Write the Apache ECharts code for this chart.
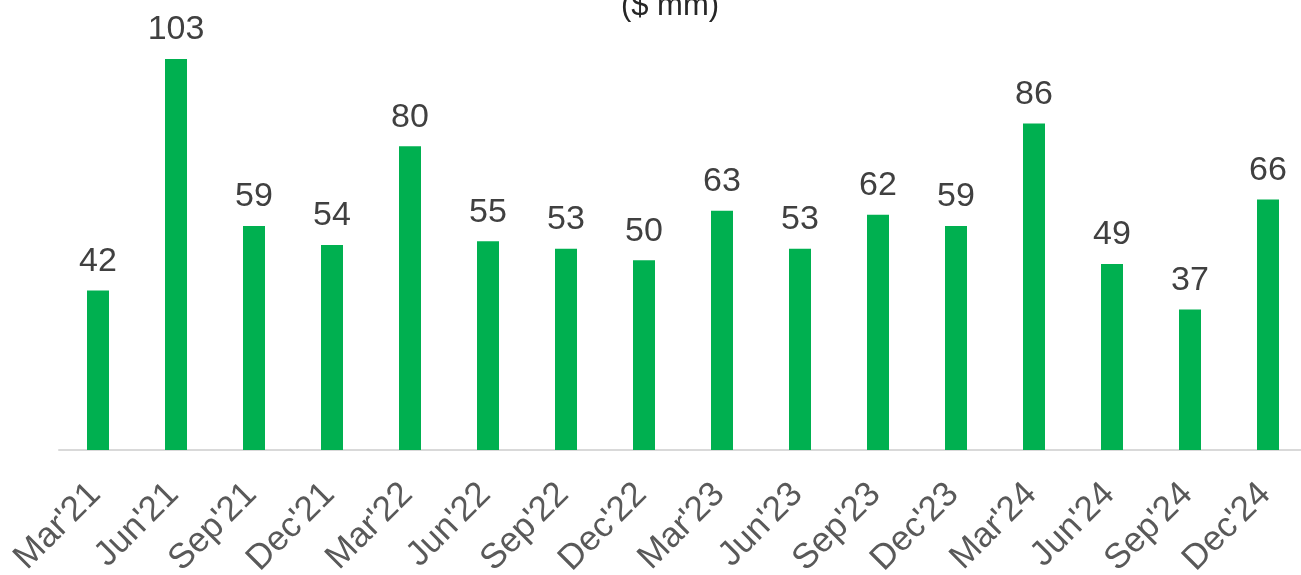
<!DOCTYPE html>
<html>
<head>
<meta charset="utf-8">
<script src="https://cdn.jsdelivr.net/npm/echarts@6/dist/echarts.min.js"></script>
<style>
html,body{margin:0;padding:0;background:#fff;}
#chart{width:1301px;height:575px;}
</style>
</head>
<body>
<div id="chart"></div>
<script>
const categories = ["Mar'21","Jun'21","Sep'21","Dec'21","Mar'22","Jun'22","Sep'22","Dec'22","Mar'23","Jun'23","Sep'23","Dec'23","Mar'24","Jun'24","Sep'24","Dec'24"];
const values = [42,103,59,54,80,55,53,50,63,53,62,59,86,49,37,66];
const titleText = "($ mm)";

const chart = echarts.init(document.getElementById('chart'));
chart.setOption({
  animation: false,
  title: {
    text: titleText,
    left: 665, top: -14, textAlign: 'center',
    textStyle: {fontFamily: 'Liberation Sans, Arial', fontSize: 31, fontWeight: 'normal', color: '#262626'}
  },
  grid: {left: 59, right: -6, top: 32.4, bottom: 125, containLabel: false, outerBoundsMode: 'none'},
  xAxis: {
    type: 'category',
    data: categories,
    axisLine: {show: true, lineStyle: {color: '#d9d9d9', width: 2}},
    axisTick: {show: false},
    axisLabel: {
      rotate: 45, interval: 0, margin: 36, padding: [0, 4, 0, 0],
      fontFamily: 'Liberation Sans, Arial', fontSize: 35, color: '#595959'
    }
  },
  yAxis: {
    type: 'value', min: 0, max: 110,
    show: false, splitLine: {show: false}
  },
  series: [{
    type: 'bar',
    data: values,
    barWidth: 22,
    itemStyle: {color: '#00B050'},
    label: {
      show: true, position: 'top', distance: 12,
      fontFamily: 'Liberation Sans, Arial', fontSize: 34, color: '#404040'
    }
  }]
});
</script>
</body>
</html>
